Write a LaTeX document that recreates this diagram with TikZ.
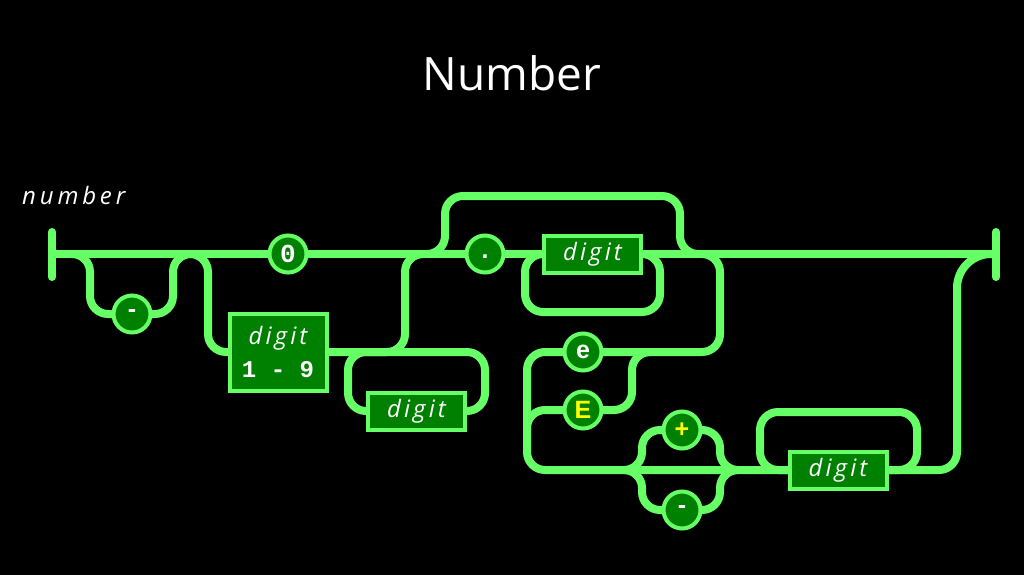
\documentclass[tikz,border=0pt]{standalone}
\usepackage{fontspec}
\setmainfont{Open Sans}
\newfontfamily\digitfont[LetterSpace=13]{Open Sans}
\newfontfamily\namefont[LetterSpace=16]{Open Sans}
\newfontfamily\monobold{Liberation Mono}
\newfontfamily\sansbold{Liberation Sans}
\definecolor{rail}{HTML}{66FF66}
\definecolor{tile}{HTML}{008000}
\definecolor{signyellow}{HTML}{FFFF00}
\pgfdeclarelayer{rails}
\pgfsetlayers{rails,main}
\tikzset{
  track/.style={draw=rail,line width=8pt,rounded corners=18pt,line cap=round},
  term/.style={circle,draw=rail,fill=tile,line width=4pt,minimum size=37pt,inner sep=0pt,text=white,font=\sansbold\bfseries\fontsize{25}{25}\selectfont},
  nonterm/.style={rectangle,draw=rail,fill=tile,line width=4pt,minimum width=97pt,minimum height=37pt,inner sep=0pt,text=white,font=\digitfont\itshape\fontsize{24}{24}\selectfont}
}
\begin{document}
\begin{tikzpicture}[x=1pt,y=-1pt]
    \useasboundingbox (0,0) rectangle (1024,575);
    \node[text=white,font=\fontsize{46}{50}\selectfont] (title) at (512,73) {Number};
    \node[text=white,anchor=west,inner sep=0pt,font=\namefont\itshape\fontsize{24}{24}\selectfont] (name) at (22,195) {number};
    \coordinate (st) at (52,254);
    \coordinate (en) at (996,254);
    \node[term] (minus) at (132,314) {-};
    \node[term,font=\monobold\bfseries\fontsize{26}{26}\selectfont] (zero) at (288,254) {0};
    \node[nonterm,minimum height=77pt,align=center,font=\digitfont\itshape\fontsize{24}{33}\selectfont] (onenine) at (278,352) {digit\\{\monobold\upshape\bfseries 1 - 9}};
    \node[nonterm] (intdigit) at (416.5,411) {digit};
    \node[term,text height=9pt,text depth=0pt] (dot) at (485,254) {.};
    \node[nonterm] (fracdigit) at (592.5,254) {digit};
    \node[term] (e) at (583,352) {e};
    \node[term,text=signyellow] (E) at (583,410) {E};
    \node[term,text=signyellow] (plus) at (682,430) {+};
    \node[term] (neg) at (682,510) {-};
    \node[nonterm] (expdigit) at (838,470) {digit};
    \begin{pgfonlayer}{rails}
    \fill[black] (0,0) rectangle (1024,575);
    \draw[track] (st) -- (en);
    \draw[track] ([yshift=22pt]st) -- ([yshift=-23pt]st);
    \draw[track] ([yshift=22pt]en) -- ([yshift=-23pt]en);
    \draw[track] (72,254) -| (90,314) -- (minus.center) -- (173,314) |- (191,254);
    \draw[track] (190,254) -| (208,352) -- (onenine.center) -- (405,352) |- (423,254);
    \draw[track] (intdigit.center) -| (485,352) -| (348,411) -- (intdigit.center);
    \draw[track] (427,254) -| (445,196) -| (680,254) -- (698,254);
    \draw[track] (fracdigit.center) -| (660,312) -| (525,254) -- (fracdigit.center);
    \draw[track] (702,254) -| (720,352) -- (e.center);
    \draw[track] (650,352) -| (632,410) -- (E.center);
    \draw[track] (E.center) -| (527,430);
    \draw[track] (e.center) -| (527,470) -- (957,470) -- (957,420);
    \draw[track,rounded corners=34pt] (957,420) |- (en);
    \draw[track] (624,470) -| (642,430) -- (plus.center) -- (720,430) |- (738,470);
    \draw[track] (624,470) -| (642,510) -- (neg.center) -- (720,510) |- (738,470);
    \draw[track] (expdigit.center) -| (917,412) -| (760,470) -- (expdigit.center);
    \end{pgfonlayer}
\end{tikzpicture}
\end{document}
